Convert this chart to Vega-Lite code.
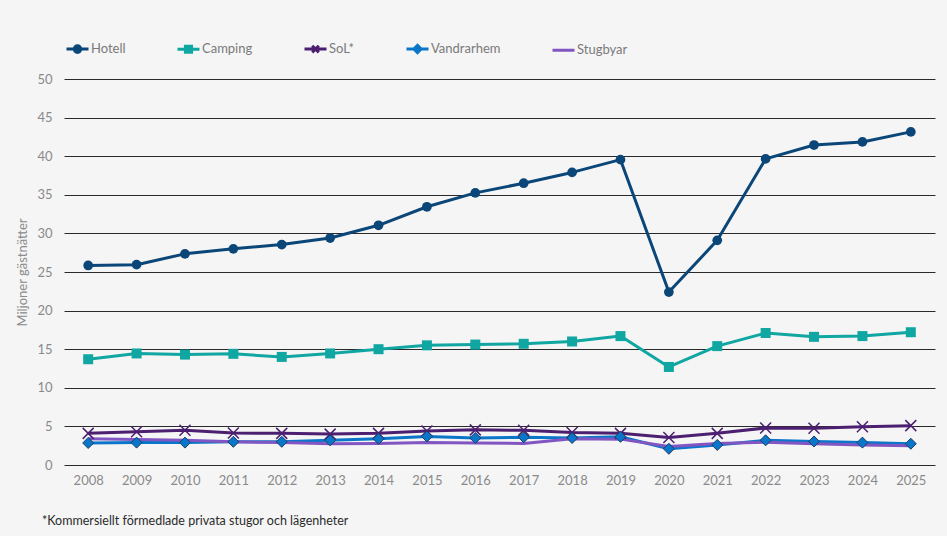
{
  "$schema": "https://vega.github.io/schema/vega-lite/v6.json",
  "width": 871,
  "height": 386,
  "autosize": {"type": "none"},
  "padding": {"left": 64, "top": 79, "right": 12, "bottom": 71},
  "background": "#f5f5f5",
  "title": {
    "text": "*Kommersiellt förmedlade privata stugor och lägenheter",
    "orient": "bottom",
    "anchor": "start",
    "frame": "group",
    "dx": -22,
    "offset": 28,
    "fontSize": 12.5,
    "fontWeight": "normal",
    "color": "#2a2a2a",
    "font": "Lato"
  },
  "config": {
    "font": "Lato",
    "view": {"stroke": null},
    "axis": {"labelFont": "Lato", "titleFont": "Lato"}
  },
  "data": {
    "values": [
      {"year": 2008, "series": "Vandrarhem", "value": 2.85},
      {"year": 2009, "series": "Vandrarhem", "value": 2.9},
      {"year": 2010, "series": "Vandrarhem", "value": 2.9},
      {"year": 2011, "series": "Vandrarhem", "value": 3.0},
      {"year": 2012, "series": "Vandrarhem", "value": 3.0},
      {"year": 2013, "series": "Vandrarhem", "value": 3.2},
      {"year": 2014, "series": "Vandrarhem", "value": 3.4},
      {"year": 2015, "series": "Vandrarhem", "value": 3.7},
      {"year": 2016, "series": "Vandrarhem", "value": 3.5},
      {"year": 2017, "series": "Vandrarhem", "value": 3.6},
      {"year": 2018, "series": "Vandrarhem", "value": 3.5},
      {"year": 2019, "series": "Vandrarhem", "value": 3.65},
      {"year": 2020, "series": "Vandrarhem", "value": 2.1},
      {"year": 2021, "series": "Vandrarhem", "value": 2.6},
      {"year": 2022, "series": "Vandrarhem", "value": 3.2},
      {"year": 2023, "series": "Vandrarhem", "value": 3.05},
      {"year": 2024, "series": "Vandrarhem", "value": 2.9},
      {"year": 2025, "series": "Vandrarhem", "value": 2.75},
      {"year": 2008, "series": "Stugbyar", "value": 3.4},
      {"year": 2009, "series": "Stugbyar", "value": 3.3},
      {"year": 2010, "series": "Stugbyar", "value": 3.2},
      {"year": 2011, "series": "Stugbyar", "value": 3.0},
      {"year": 2012, "series": "Stugbyar", "value": 2.9},
      {"year": 2013, "series": "Stugbyar", "value": 2.75},
      {"year": 2014, "series": "Stugbyar", "value": 2.8},
      {"year": 2015, "series": "Stugbyar", "value": 2.9},
      {"year": 2016, "series": "Stugbyar", "value": 2.85},
      {"year": 2017, "series": "Stugbyar", "value": 2.8},
      {"year": 2018, "series": "Stugbyar", "value": 3.4},
      {"year": 2019, "series": "Stugbyar", "value": 3.35},
      {"year": 2020, "series": "Stugbyar", "value": 2.4},
      {"year": 2021, "series": "Stugbyar", "value": 2.8},
      {"year": 2022, "series": "Stugbyar", "value": 2.95},
      {"year": 2023, "series": "Stugbyar", "value": 2.75},
      {"year": 2024, "series": "Stugbyar", "value": 2.6},
      {"year": 2025, "series": "Stugbyar", "value": 2.5},
      {"year": 2008, "series": "SoL*", "value": 4.1},
      {"year": 2009, "series": "SoL*", "value": 4.3},
      {"year": 2010, "series": "SoL*", "value": 4.5},
      {"year": 2011, "series": "SoL*", "value": 4.15},
      {"year": 2012, "series": "SoL*", "value": 4.1},
      {"year": 2013, "series": "SoL*", "value": 4.0},
      {"year": 2014, "series": "SoL*", "value": 4.1},
      {"year": 2015, "series": "SoL*", "value": 4.4},
      {"year": 2016, "series": "SoL*", "value": 4.55},
      {"year": 2017, "series": "SoL*", "value": 4.5},
      {"year": 2018, "series": "SoL*", "value": 4.2},
      {"year": 2019, "series": "SoL*", "value": 4.1},
      {"year": 2020, "series": "SoL*", "value": 3.55},
      {"year": 2021, "series": "SoL*", "value": 4.1},
      {"year": 2022, "series": "SoL*", "value": 4.8},
      {"year": 2023, "series": "SoL*", "value": 4.75},
      {"year": 2024, "series": "SoL*", "value": 4.95},
      {"year": 2025, "series": "SoL*", "value": 5.1},
      {"year": 2008, "series": "Camping", "value": 13.7},
      {"year": 2009, "series": "Camping", "value": 14.45},
      {"year": 2010, "series": "Camping", "value": 14.3},
      {"year": 2011, "series": "Camping", "value": 14.4},
      {"year": 2012, "series": "Camping", "value": 14.0},
      {"year": 2013, "series": "Camping", "value": 14.45},
      {"year": 2014, "series": "Camping", "value": 15.0},
      {"year": 2015, "series": "Camping", "value": 15.5},
      {"year": 2016, "series": "Camping", "value": 15.6},
      {"year": 2017, "series": "Camping", "value": 15.7},
      {"year": 2018, "series": "Camping", "value": 16.0},
      {"year": 2019, "series": "Camping", "value": 16.7},
      {"year": 2020, "series": "Camping", "value": 12.7},
      {"year": 2021, "series": "Camping", "value": 15.4},
      {"year": 2022, "series": "Camping", "value": 17.1},
      {"year": 2023, "series": "Camping", "value": 16.6},
      {"year": 2024, "series": "Camping", "value": 16.7},
      {"year": 2025, "series": "Camping", "value": 17.2},
      {"year": 2008, "series": "Hotell", "value": 25.85},
      {"year": 2009, "series": "Hotell", "value": 25.95},
      {"year": 2010, "series": "Hotell", "value": 27.35},
      {"year": 2011, "series": "Hotell", "value": 28.0},
      {"year": 2012, "series": "Hotell", "value": 28.55},
      {"year": 2013, "series": "Hotell", "value": 29.4},
      {"year": 2014, "series": "Hotell", "value": 31.05},
      {"year": 2015, "series": "Hotell", "value": 33.45},
      {"year": 2016, "series": "Hotell", "value": 35.25},
      {"year": 2017, "series": "Hotell", "value": 36.5},
      {"year": 2018, "series": "Hotell", "value": 37.9},
      {"year": 2019, "series": "Hotell", "value": 39.55},
      {"year": 2020, "series": "Hotell", "value": 22.4},
      {"year": 2021, "series": "Hotell", "value": 29.1},
      {"year": 2022, "series": "Hotell", "value": 39.65},
      {"year": 2023, "series": "Hotell", "value": 41.45},
      {"year": 2024, "series": "Hotell", "value": 41.85},
      {"year": 2025, "series": "Hotell", "value": 43.15}
    ]
  },
  "encoding": {
    "x": {
      "field": "year",
      "type": "quantitative",
      "scale": {"domain": [2007.5, 2025.5], "nice": false, "zero": false},
      "axis": {
        "title": null,
        "values": [2008, 2009, 2010, 2011, 2012, 2013, 2014, 2015, 2016, 2017, 2018, 2019, 2020, 2021, 2022, 2023, 2024, 2025],
        "format": "d",
        "labelAngle": 0,
        "labelFlush": false,
        "labelOverlap": false,
        "domain": false,
        "ticks": false,
        "grid": false,
        "labelPadding": 9,
        "labelFontSize": 13,
        "labelColor": "#8a8a8a"
      }
    },
    "y": {
      "field": "value",
      "type": "quantitative",
      "scale": {"domain": [0, 50], "nice": false},
      "axis": {
        "title": "Miljoner gästnätter",
        "titleFontSize": 13,
        "titleFontWeight": "normal",
        "titleColor": "#8a8a8a",
        "titlePadding": 7,
        "values": [0, 5, 10, 15, 20, 25, 30, 35, 40, 45, 50],
        "domain": false,
        "ticks": false,
        "grid": true,
        "gridColor": "#2a2a2a",
        "gridWidth": 1,
        "gridOpacity": 1,
        "labelPadding": 12,
        "labelFontSize": 13,
        "labelColor": "#8a8a8a"
      }
    }
  },
  "layer": [
    {
      "mark": {"type": "point", "filled": true, "opacity": 0},
      "encoding": {
        "color": {
          "field": "series",
          "type": "nominal",
          "sort": null,
          "scale": {
            "domain": ["Hotell", "Camping", "SoL*", "Vandrarhem", "Stugbyar"],
            "range": ["#0a4678", "#10a6a1", "#4c1f70", "#0a76c9", "#8256c2"]
          },
          "legend": {
            "title": null,
            "orient": "none",
            "direction": "horizontal",
            "legendX": 1,
            "legendY": -43,
            "symbolSize": 484,
            "symbolStrokeWidth": 3,
            "symbolOpacity": 1,
            "labelFontSize": 13,
            "labelColor": "#7a7a7a",
            "labelOffset": 1,
            "columnPadding": 45,
            "encode": {
              "symbols": {
                "update": {
                  "stroke": {"scale": "color", "field": "value"},
                  "strokeWidth": {"value": 3},
                  "opacity": {"value": 1}
                }
              }
            }
          }
        },
        "shape": {
          "field": "series",
          "type": "nominal",
          "sort": null,
          "scale": {
            "domain": ["Hotell", "Camping", "SoL*", "Vandrarhem", "Stugbyar"],
            "range": [
              "M-1,0H1M-0.3,0A0.3,0.3 0 1,0 0.3,0A0.3,0.3 0 1,0 -0.3,0Z",
              "M-1,0H1M-0.28,-0.28H0.28V0.28H-0.28Z",
              "M-1,0H1M-0.3,-0.3L0.3,0.3M0.3,-0.3L-0.3,0.3",
              "M-1,0H1M0,-0.33L0.33,0L0,0.33L-0.33,0Z",
              "M-1,0H1"
            ]
          },
          "legend": {
            "title": null,
            "orient": "none",
            "direction": "horizontal",
            "legendX": 1,
            "legendY": -43,
            "symbolSize": 484,
            "symbolOpacity": 1,
            "labelFontSize": 13,
            "labelColor": "#7a7a7a",
            "labelOffset": 1,
            "columnPadding": 45
          }
        }
      }
    },
    {
      "mark": {"type": "line", "strokeWidth": 3, "strokeJoin": "round"},
      "encoding": {
        "color": {"field": "series", "type": "nominal", "sort": null, "legend": null}
      }
    },
    {
      "transform": [{"filter": "datum.series === 'Hotell'"}],
      "mark": {"type": "point", "filled": true, "opacity": 1, "shape": "circle", "size": 95},
      "encoding": {"color": {"field": "series", "type": "nominal", "sort": null, "legend": null}}
    },
    {
      "transform": [{"filter": "datum.series === 'Camping'"}],
      "mark": {"type": "point", "filled": true, "opacity": 1, "shape": "square", "size": 100},
      "encoding": {"color": {"field": "series", "type": "nominal", "sort": null, "legend": null}}
    },
    {
      "transform": [{"filter": "datum.series === 'SoL*'"}],
      "mark": {"type": "point", "filled": false, "opacity": 1, "shape": "M-1,-1L1,1M1,-1L-1,1", "size": 121, "strokeWidth": 1.5},
      "encoding": {"color": {"field": "series", "type": "nominal", "sort": null, "legend": null}}
    },
    {
      "transform": [{"filter": "datum.series === 'Vandrarhem'"}],
      "mark": {"type": "point", "filled": true, "opacity": 1, "shape": "M0,-1L1,0L0,1L-1,0Z", "size": 121, "stroke": "#1d3d68", "strokeWidth": 1},
      "encoding": {"color": {"field": "series", "type": "nominal", "sort": null, "legend": null}}
    }
  ]
}
